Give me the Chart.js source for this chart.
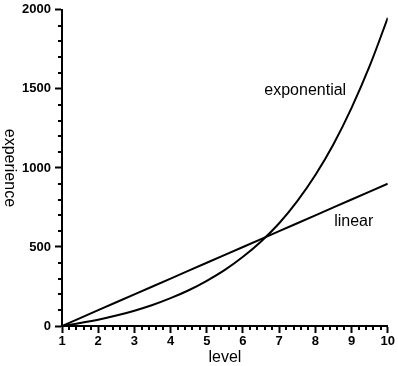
<!DOCTYPE html>
<html>
<head>
<meta charset="utf-8">
<script src="https://cdn.jsdelivr.net/npm/chart.js@4/dist/chart.umd.min.js"></script>
<style>
html,body{margin:0;padding:0;background:#fff;}
#wrap{width:398px;height:366px;position:relative;}
</style>
</head>
<body>
<div id="wrap"><canvas id="c" width="398" height="366"></canvas></div>
<script>
const levels = [1,1.5,2,2.5,3,3.5,4,4.5,5,5.5,6,6.5,7,7.5,8,8.5,9,9.5,10];
const linearXp = [0,50,100,150,200,250,300,350,400,450,500,550,600,650,700,750,800,850,900];
const exponentialXp = [0,19,40,66,97,133,176,226,286,355,438,535,650,790,955,1150,1380,1645,1950];
const xTicks = [1,2,3,4,5,6,7,8,9,10];
const yTicks = [0,500,1000,1500,2000];
const seriesLabels = ['exponential','linear'];
const axisTitles = {x:'level', y:'experience'};

const FONT = '"Liberation Sans", Arial, Helvetica, sans-serif';

const annot = {
  id:'annot',
  afterDraw(chart){
    const ctx = chart.ctx, xs = chart.scales.x, ys = chart.scales.y;
    ctx.save();
    ctx.strokeStyle = '#000';
    ctx.lineWidth = 2;
    for (let i = 0; i <= 45; i++){
      const v = 1 + i*0.2;
      if (Math.abs(v - Math.round(v)) < 1e-6) continue;
      const px = Math.round(xs.getPixelForValue(v));
      ctx.beginPath(); ctx.moveTo(px, ys.bottom); ctx.lineTo(px, ys.bottom + 4); ctx.stroke();
    }
    for (let v = 100; v < 2000; v += 100){
      if (v % 500 === 0) continue;
      const py = Math.round(ys.getPixelForValue(v));
      ctx.beginPath(); ctx.moveTo(xs.left, py); ctx.lineTo(xs.left - 4, py); ctx.stroke();
    }
    ctx.fillStyle = '#000';
    ctx.font = '16px ' + FONT;
    ctx.textAlign = 'center';
    ctx.textBaseline = 'middle';
    ctx.fillText(seriesLabels[0], xs.getPixelForValue(7.72), ys.getPixelForValue(1487));
    ctx.fillText(seriesLabels[1], xs.getPixelForValue(9.06), ys.getPixelForValue(662));
    ctx.fillText(axisTitles.x, (xs.left + xs.right)/2, 358);
    ctx.translate(9, (ys.top + ys.bottom)/2);
    ctx.rotate(Math.PI/2);
    ctx.fillText(axisTitles.y, 0, 0);
    ctx.restore();
  }
};

new Chart(document.getElementById('c'), {
  type: 'line',
  data: {
    datasets: [
      { label: seriesLabels[0], data: levels.map((l,i)=>({x:l, y:exponentialXp[i]})),
        borderColor:'#000', borderWidth:2, pointRadius:0, tension:0.4, fill:false },
      { label: seriesLabels[1], data: levels.map((l,i)=>({x:l, y:linearXp[i]})),
        borderColor:'#000', borderWidth:2, pointRadius:0, tension:0, fill:false }
    ]
  },
  options: {
    responsive:false, animation:false, devicePixelRatio:1,
    layout:{padding:{top:6, right:7, left:0, bottom:0}},
    plugins:{legend:{display:false}, tooltip:{enabled:false}},
    scales:{
      x:{type:'linear', min:1, max:10,
        afterBuildTicks(s){ s.ticks = xTicks.map(v=>({value:v})); },
        afterFit(s){ s.height = 40; },
        grid:{display:true, drawOnChartArea:false, tickLength:7, tickColor:'#000', tickWidth:2},
        border:{display:true, color:'#000', width:2},
        ticks:{color:'#000', padding:3, maxRotation:0, autoSkip:false, callback:v=>String(v), font:{family:FONT, size:13, weight:'bold', lineHeight:0.9}}
      },
      y:{type:'linear', min:0, max:2000,
        afterBuildTicks(s){ s.ticks = yTicks.map(v=>({value:v})); },
        afterFit(s){ s.width = 62; },
        grid:{display:true, drawOnChartArea:false, tickLength:7, tickColor:'#000', tickWidth:2},
        border:{display:true, color:'#000', width:2},
        ticks:{color:'#000', padding:4, autoSkip:false, callback:v=>String(v), font:{family:FONT, size:13, weight:'bold', lineHeight:0.9}}
      }
    }
  },
  plugins:[annot]
});
</script>
</body>
</html>
